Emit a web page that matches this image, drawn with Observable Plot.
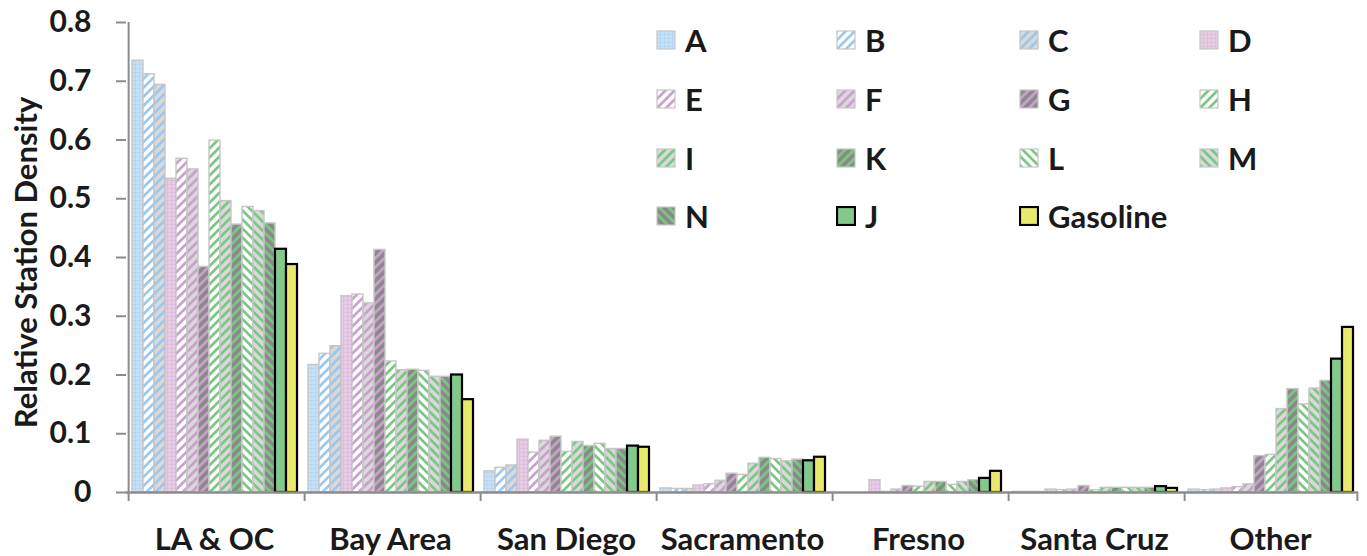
<!DOCTYPE html>
<html><head><meta charset="utf-8">
<script src="https://cdn.jsdelivr.net/npm/d3@7"></script>
<script src="https://cdn.jsdelivr.net/npm/@observablehq/plot@0.6"></script>
<style>
body{margin:0;background:#fff;font-family:Lato,sans-serif;}
#wrap{position:relative;width:1367px;height:556px;overflow:hidden;}
#legend{position:absolute;left:656px;top:11px;display:grid;grid-template-columns:180px 183px 180px 150px;grid-auto-rows:58.7px;}
.item{display:flex;align-items:center;font-weight:bold;font-size:31px;color:#1a1a1a;white-space:nowrap;}
.item svg{margin-right:9px;flex:none;}
</style></head><body>
<svg width="0" height="0" style="position:absolute"><defs id="defs"></defs></svg>
<div id="wrap"><div id="chart"></div><div id="legend"></div></div>
<script>
// ---- data ----
const groups = ["LA & OC", "Bay Area", "San Diego", "Sacramento", "Fresno", "Santa Cruz", "Other"];
const series = ["A", "B", "C", "D", "E", "F", "G", "H", "I", "K", "L", "M", "N", "J", "Gasoline"];
const laOc       = [0.735, 0.712, 0.694, 0.534, 0.568, 0.550, 0.384, 0.599, 0.496, 0.456, 0.486, 0.479, 0.458, 0.414, 0.388];
const bayArea    = [0.217, 0.236, 0.249, 0.334, 0.337, 0.322, 0.413, 0.223, 0.208, 0.209, 0.207, 0.197, 0.197, 0.200, 0.158];
const sanDiego   = [0.036, 0.042, 0.046, 0.090, 0.068, 0.088, 0.095, 0.069, 0.086, 0.079, 0.083, 0.074, 0.074, 0.079, 0.077];
const sacramento = [0.007, 0.006, 0.006, 0.012, 0.014, 0.020, 0.032, 0.030, 0.049, 0.059, 0.057, 0.053, 0.056, 0.054, 0.060];
const fresno     = [0, 0, 0, 0.021, 0.001, 0.005, 0.011, 0.010, 0.018, 0.018, 0.013, 0.018, 0.021, 0.024, 0.036];
const santaCruz  = [0.001, 0.001, 0.001, 0.005, 0.004, 0.005, 0.011, 0.004, 0.008, 0.008, 0.008, 0.008, 0.008, 0.010, 0.007];
const other      = [0.005, 0.004, 0.005, 0.007, 0.009, 0.014, 0.062, 0.064, 0.142, 0.176, 0.150, 0.177, 0.190, 0.227, 0.281];
const yTicks = [0, 0.1, 0.2, 0.3, 0.4, 0.5, 0.6, 0.7, 0.8];
const yLabel = "Relative Station Density";

const groupValues = [laOc, bayArea, sanDiego, sacramento, fresno, santaCruz, other];
const data = [];
groups.forEach((g, gi) => series.forEach((s, si) => data.push({group: g, series: s, value: groupValues[gi][si]})));

// ---- styles (patterns) ----
const blue = "#9cc8ec", pink = "#caa0cd", green = "#7cc683";
const white = "#ffffff", lgrey = "#d9d9d9", dgrey = "#8a8a8a";
const styleSpec = {
  A: {kind: "grid", bg: "#c9e0f4", fg: "#b3d5f0"},
  B: {kind: "stripe", bg: white, fg: blue, a: 45},
  C: {kind: "stripe", bg: lgrey, fg: blue, a: 45},
  D: {kind: "grid", bg: "#e6cde4", fg: "#dbbcda"},
  E: {kind: "stripe", bg: white, fg: pink, a: 45},
  F: {kind: "stripe", bg: lgrey, fg: pink, a: 45},
  G: {kind: "stripe", bg: dgrey, fg: pink, a: 45},
  H: {kind: "stripe", bg: white, fg: green, a: 45},
  I: {kind: "stripe", bg: lgrey, fg: green, a: 45},
  K: {kind: "stripe", bg: dgrey, fg: green, a: 45},
  L: {kind: "stripe", bg: white, fg: green, a: -45},
  M: {kind: "stripe", bg: lgrey, fg: green, a: -45},
  N: {kind: "stripe", bg: dgrey, fg: green, a: -45},
  J: {kind: "solid", bg: "#83c98b"},
  Gasoline: {kind: "solid", bg: "#e8e86c"}
};
const ns = "http://www.w3.org/2000/svg";
const defs = document.getElementById("defs");
function el(tag, attrs, parent) {
  const e = document.createElementNS(ns, tag);
  for (const k in attrs) e.setAttribute(k, attrs[k]);
  if (parent) parent.appendChild(e);
  return e;
}
const fillOf = {}, strokeOf = {}, strokeWOf = {};
series.forEach((s, i) => {
  const st = styleSpec[s];
  const id = "pat" + i;
  if (st.kind === "solid") {
    fillOf[s] = st.bg; strokeOf[s] = "#000"; strokeWOf[s] = 2.2;
    return;
  }
  if (st.kind === "grid") {
    const p = el("pattern", {id, patternUnits: "userSpaceOnUse", width: 4, height: 4}, defs);
    el("rect", {width: 4, height: 4, fill: st.bg}, p);
    el("path", {d: "M0 0.5H4M0.5 0V4", stroke: st.fg, "stroke-width": 0.8, fill: "none"}, p);
  } else {
    const p = el("pattern", {id, patternUnits: "userSpaceOnUse", width: 6.4, height: 6.4, patternTransform: `rotate(${st.a})`}, defs);
    el("rect", {width: 6.4, height: 6.4, fill: st.bg}, p);
    el("rect", {width: 2.7, height: 6.4, fill: st.fg}, p);
  }
  fillOf[s] = `url(#${id})`; strokeOf[s] = "#c6c6c6"; strokeWOf[s] = 1.4;
});

// ---- layout ----
const W = 1367, H = 556, mT = 22, mB = 64, mL = 123, mR = 6;
const padOuter = 0.33;
const facetW = (W - mL - mR) / groups.length;
const step = facetW / (series.length + 2 * padOuter);
const edge = (0.5 + padOuter) * step;
const axisGrey = "#8c8c8c";
const font = "Lato, sans-serif";

const marks = [];
series.forEach(s => {
  marks.push(Plot.barY(data.filter(d => d.series === s), {
    fx: "group", x: "series", y: "value",
    fill: fillOf[s], stroke: strokeOf[s], strokeWidth: strokeWOf[s]
  }));
});
marks.push(
  Plot.ruleY([0], {stroke: axisGrey, strokeWidth: 2.5}),
  Plot.ruleX([{group: groups[0], series: series[0]}], {fx: "group", x: "series", dx: -edge, stroke: axisGrey, strokeWidth: 2}),
  Plot.ruleX(groups.map(g => ({group: g, series: series[0]})), {fx: "group", x: "series", dx: -edge, insetTop: H - mT - mB, insetBottom: -9, stroke: axisGrey, strokeWidth: 2}),
  Plot.ruleX([{group: groups[groups.length - 1], series: series[series.length - 1]}], {fx: "group", x: "series", dx: edge, insetTop: H - mT - mB, insetBottom: -9, stroke: axisGrey, strokeWidth: 2}),
  Plot.axisY({ticks: yTicks, tickFormat: d => d === 0 ? "0" : d.toFixed(1), tickSize: 10, tickPadding: 25, stroke: axisGrey, strokeWidth: 2, fontSize: 30, fontWeight: "bold", label: null}),
  Plot.axisFx({anchor: "bottom", tickSize: 0, tickPadding: 35, fontSize: 31, fontWeight: "bold", label: null}),
  Plot.text([{group: groups[0]}], {fx: "group", text: () => yLabel, frameAnchor: "left", textAnchor: "middle", rotate: -90, dx: -99, dy: 5, fontSize: 31, fontWeight: "bold"})
);

const chart = Plot.plot({
  width: W, height: H,
  marginTop: mT, marginBottom: mB, marginLeft: mL, marginRight: mR,
  style: {fontFamily: font, color: "#1a1a1a", background: "#fff", overflow: "visible"},
  fx: {domain: groups, padding: 0},
  x: {domain: series, paddingInner: 0, paddingOuter: padOuter, axis: null},
  y: {domain: [0, 0.8]},
  marks
});
document.getElementById("chart").appendChild(chart);

// ---- legend ----
const legend = document.getElementById("legend");
series.forEach(s => {
  const item = document.createElement("div");
  item.className = "item";
  const sw = el("svg", {width: 20, height: 20});
  el("rect", {x: 1, y: 1, width: 18, height: 18, fill: fillOf[s], stroke: strokeOf[s], "stroke-width": strokeOf[s] === "#000" ? 2.2 : 1.2}, sw);
  item.appendChild(sw);
  const t = document.createElement("span");
  t.textContent = s;
  item.appendChild(t);
  legend.appendChild(item);
});
</script>
</body></html>
